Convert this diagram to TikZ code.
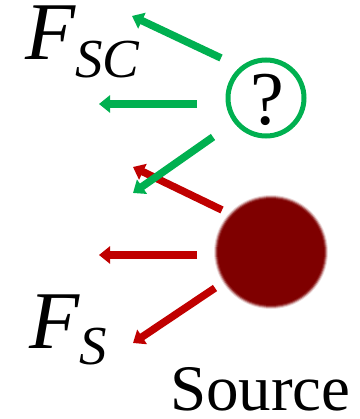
\documentclass[tikz,border=0pt]{standalone}
\usepackage{fontspec}
\setmainfont{Liberation Serif}
\usetikzlibrary{arrows.meta}
\definecolor{grn}{HTML}{00B050}
\definecolor{rd}{HTML}{C00000}
\definecolor{srcred}{HTML}{7F0000}
\tikzset{
  force/.style={line width=7.5pt,-{Triangle[length=11pt,width=17pt]}},
  gforce/.style={force,draw=grn},
  rforce/.style={force,draw=rd},
  bigF/.style={inner sep=0pt,anchor=base west,text height=0.66em,text depth=0pt,font=\fontsize{82}{82}\selectfont\itshape},
  subF/.style={inner sep=0pt,anchor=base west,text height=0.66em,text depth=0pt,font=\fontsize{55}{55}\selectfont\itshape},
}
\begin{document}
\begin{tikzpicture}[x=1pt,y=-1pt]
\useasboundingbox (0,0) rectangle (359,419);
% unknown charge
\node[circle,draw=grn,line width=5pt,minimum size=76pt,inner sep=0pt] (q) at (266,98) {};
\node[inner sep=0pt,anchor=base,font=\fontsize{76}{76}\selectfont] (qm) at (267,125) {?};
% source
\foreach \r/\o in {57/0.15,56/0.3,55/0.5,54/0.7}{
  \fill[srcred,opacity=\o] (271,252) circle (\r);
}
\fill[srcred] (271,252) circle (53);
\coordinate (src) at (271,252);
% green arrows
\coordinate (g1s) at (221,58);  \coordinate (g1e) at (132,16);
\coordinate (g2s) at (197,104); \coordinate (g2e) at (99,104);
\coordinate (g3s) at (213,137); \coordinate (g3e) at (133,193);
% red arrows
\coordinate (r1s) at (222,210); \coordinate (r1e) at (133,167);
\coordinate (r2s) at (197,255); \coordinate (r2e) at (99,255);
\coordinate (r3s) at (215,288); \coordinate (r3e) at (133,343);
\draw[rforce] (r1s) -- (r1e);
\draw[gforce] (g1s) -- (g1e);
\draw[gforce] (g2s) -- (g2e);
\draw[gforce] (g3s) -- (g3e);
\draw[rforce] (r2s) -- (r2e);
\draw[rforce] (r3s) -- (r3e);
% labels
\node[bigF] (fsc) at (25,60) {F};
\node[subF] (sc) at (75,78) {SC};
\node[bigF] (fs) at (29,348) {F};
\node[subF] (s) at (79,364) {S};
\node[inner sep=0pt,anchor=base west,text depth=0pt,font=\fontsize{65}{65}\selectfont] (source) at (170,410) {Source};
\end{tikzpicture}
\end{document}
